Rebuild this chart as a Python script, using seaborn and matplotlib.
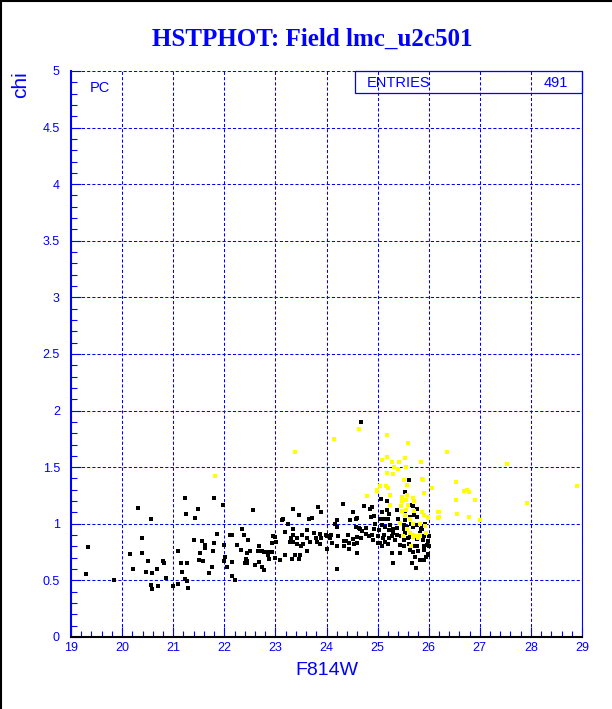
import matplotlib
matplotlib.use("Agg")
import matplotlib.pyplot as plt
import seaborn as sns
import pandas as pd
from matplotlib.lines import Line2D
from matplotlib.patches import Rectangle
from matplotlib.ticker import MultipleLocator, FuncFormatter

# black points (F814W, chi)
black_x = [19.34, 19.29, 19.85, 20.32, 20.56, 20.39, 20.15, 20.38, 20.22, 20.50, 20.47, 20.58, 20.69, 20.80,
           20.82, 20.86, 20.57, 20.59, 20.70, 20.99, 21.09, 21.15, 21.17, 21.27, 21.23, 21.10, 21.28, 21.24,
           21.26, 21.27,
           21.79, 21.48, 21.97, 21.42, 22.57, 21.85, 21.40, 21.56, 21.62, 21.63, 21.79, 21.77, 21.52, 21.50,
           21.58, 21.75, 21.71, 22.00, 22.01, 22.00, 22.05, 22.16, 22.20, 22.11, 22.16, 22.34, 22.38, 22.33,
           22.46, 22.25, 22.44, 22.42, 22.45, 22.44, 22.40, 22.16, 22.51, 22.60, 22.68, 22.66, 22.74, 22.78,
           22.85, 22.68, 22.73, 22.78, 22.85, 22.87, 22.94, 22.93, 22.95, 23.00, 23.01, 23.12, 23.14, 23.19,
           23.25, 23.30, 23.35, 23.35, 23.28, 23.34, 23.42, 23.42, 23.19, 23.38, 23.46, 23.32, 23.35, 23.46,
           23.50, 23.09, 22.99,
           24.68, 24.33, 23.84, 24.51, 24.73, 24.85, 23.89, 23.71, 23.66, 24.20, 24.46, 24.57, 24.59, 24.88,
           24.58, 24.64, 24.66, 24.70, 24.78, 24.17, 23.61, 23.75, 23.87, 23.99, 24.01, 24.08, 24.20, 24.23,
           24.43, 24.60, 23.52, 23.61, 23.80, 23.89, 24.07, 24.10, 24.35, 24.38, 24.51, 24.60, 24.68, 24.77,
           24.83, 23.54, 23.67, 23.82, 23.87, 24.20, 24.45, 24.53, 24.35, 24.44, 23.62, 24.00, 24.60, 24.21,
           23.48, 25.00,
           25.61, 25.54, 25.07, 25.18, 25.63, 25.77, 25.69, 24.90, 25.18, 25.09, 25.22, 25.38, 25.54, 25.64,
           25.77, 25.72, 24.92, 25.04, 25.13, 25.21, 25.39, 25.54, 24.95, 25.08, 25.15, 25.25, 25.38, 25.51,
           25.65, 25.77, 25.87, 25.93, 24.92, 25.02, 25.22, 25.30, 25.31, 25.51, 25.57, 25.70, 25.84, 25.87,
           24.89, 25.00, 25.13, 25.22, 25.28, 25.38, 25.46, 25.53, 25.64, 25.67, 25.74, 25.82, 25.90, 26.00,
           24.91, 25.10, 25.15, 25.35, 25.51, 25.59, 25.77, 25.89, 25.98, 25.08, 25.20, 25.44, 25.61, 25.69,
           25.77, 25.90, 25.97, 26.00, 25.04, 25.29, 25.44, 25.70, 25.51, 25.64, 25.80, 25.91, 25.98, 25.98,
           25.95, 25.31, 25.83, 25.91, 25.74, 25.67, 25.76]
black_y = [0.795, 0.56, 0.50, 1.14, 1.045, 0.877, 0.736, 0.745, 0.60, 0.674, 0.577, 0.563, 0.60, 0.67,
           0.655, 0.524, 0.462, 0.427, 0.45, 0.45, 0.76, 0.657, 0.577, 0.657, 0.512, 0.466, 0.433, 1.225,
           1.087, 0.49,
           1.225, 1.13, 1.166, 1.054, 1.125, 0.913, 0.86, 0.85, 0.81, 0.79, 0.833, 0.762, 0.739, 0.683,
           0.674, 0.62, 0.568, 0.81, 0.71, 0.674, 0.62, 0.539, 0.50, 0.904, 0.904, 0.954, 0.904, 0.77,
           0.857, 0.81, 0.74, 0.69, 0.675, 0.655, 0.65, 0.666, 0.762, 0.636, 0.806, 0.762, 0.76, 0.755,
           0.754, 0.666, 0.62, 0.59, 0.72, 0.69, 0.754, 0.826, 0.89, 0.885, 0.84, 1.036, 1.04, 0.93,
           1.0, 0.87, 0.95, 0.90, 0.84, 0.835, 0.87, 0.82, 0.72, 0.72, 0.69, 0.69, 1.13, 1.08,
           0.80, 0.68, 0.70,
           1.90, 1.175, 1.15, 1.107, 1.157, 1.13, 1.10, 1.05, 1.04, 1.03, 1.03, 1.04, 1.05, 1.057,
           0.97, 0.96, 0.95, 0.94, 0.96, 1.0, 0.945, 0.92, 0.91, 0.90, 0.89, 0.90, 0.975, 0.89,
           0.90, 0.88, 0.90, 0.87, 0.87, 0.875, 0.87, 0.83, 0.85, 0.845, 0.865, 0.83, 0.87, 0.91,
           0.89, 0.82, 0.84, 0.835, 0.82, 0.80, 0.83, 0.82, 0.80, 0.78, 0.76, 0.775, 0.745, 0.60,
           0.72, 0.83,
           1.39, 1.28, 1.22, 1.20, 1.17, 1.13, 1.16, 1.145, 1.125, 1.10, 1.09, 1.12, 1.10, 1.06,
           1.06, 1.08, 1.07, 1.04, 1.04, 1.04, 1.04, 1.03, 0.995, 0.985, 0.975, 0.985, 0.965, 0.985,
           0.995, 0.985, 0.975, 1.0, 0.955, 0.945, 0.945, 0.95, 0.92, 0.955, 0.975, 0.975, 0.95, 0.955,
           0.905, 0.895, 0.905, 0.875, 0.895, 0.905, 0.895, 0.915, 0.905, 0.885, 0.895, 0.915, 0.895, 0.89,
           0.855, 0.875, 0.84, 0.86, 0.855, 0.875, 0.865, 0.86, 0.845, 0.80, 0.825, 0.815, 0.825, 0.80,
           0.80, 0.80, 0.81, 0.80, 0.83, 0.745, 0.745, 0.75, 0.80, 0.77, 0.76, 0.765, 0.72, 0.735,
           0.71, 0.655, 0.68, 0.68, 0.71, 0.655, 0.61]

# yellow points
yellow_x = [21.81, 23.38, 24.14, 24.63, 24.79, 24.98, 25.18, 25.59, 25.09, 25.18, 25.53, 25.29, 25.42,
            25.85, 25.33, 25.40, 25.56, 25.18, 25.30, 25.87, 25.52, 25.57, 25.05, 25.17, 25.21, 24.99,
            25.91, 26.07, 25.57, 25.25, 25.69, 25.47, 25.72, 25.48, 25.56, 25.25, 25.46, 25.60, 25.72,
            25.48, 25.56, 25.53, 25.87, 25.90, 25.98, 26.19, 26.20, 25.63, 25.69, 25.82, 25.44, 25.63,
            25.70, 25.75, 25.80, 25.83, 25.70, 25.66, 25.93, 25.95, 25.49, 25.57, 26.35, 27.54, 25.88,
            26.54, 26.70, 26.74, 26.79, 26.54, 26.91, 28.90, 27.93, 26.20, 26.56, 26.19, 26.79, 27.01,
            25.99]
yellow_y = [1.42, 1.63, 1.75, 1.84, 1.245, 1.29, 1.78, 1.71, 1.56, 1.59, 1.58, 1.545, 1.545,
            1.545, 1.50, 1.48, 1.50, 1.445, 1.44, 1.395, 1.385, 1.34, 1.33, 1.335, 1.32, 1.30,
            1.27, 1.32, 1.25, 1.25, 1.23, 1.24, 1.20, 1.20, 1.21, 1.165, 1.16, 1.165, 1.11,
            1.115, 1.125, 1.08, 1.10, 1.075, 1.05, 1.10, 1.06, 1.04, 0.995, 0.995, 1.01, 0.92,
            0.905, 0.89, 0.87, 0.90, 0.88, 0.80, 0.98, 0.92, 0.89, 0.955, 1.635, 1.53, 1.39,
            1.37, 1.29, 1.30, 1.28, 1.21, 1.21, 1.335, 1.18, 1.105, 1.09, 1.05, 1.06, 1.035,
            1.06]

x_ticks = list(range(19, 30))
n_entries = 491

blue = "#0000ff"
sans = ["Liberation Sans", "DejaVu Sans"]

black_df = pd.DataFrame({"F814W": black_x, "chi": black_y})
yellow_df = pd.DataFrame({"F814W": yellow_x, "chi": yellow_y})

fig = plt.figure(figsize=(6.12, 7.09), dpi=100)
ax = fig.add_axes([0.116, 0.1016, 0.835, 0.7983])

sns.scatterplot(data=black_df, x="F814W", y="chi", color="black", marker="s", s=6,
                linewidth=0, ax=ax, zorder=3)
sns.scatterplot(data=yellow_df, x="F814W", y="chi", color="#ffff00", marker="s", s=6,
                linewidth=0, ax=ax, zorder=4)

ax.set_xlim(19, 29)
ax.set_ylim(0, 5)
ax.set_xticks(x_ticks)
ax.xaxis.set_minor_locator(MultipleLocator(0.2))
ax.yaxis.set_major_locator(MultipleLocator(0.5))
ax.yaxis.set_minor_locator(MultipleLocator(0.1))
ax.yaxis.set_major_formatter(FuncFormatter(lambda v, p: "%g" % v))

ax.grid(True, which="major", color=blue, linestyle=(0, (3, 2)), linewidth=0.75)
ax.set_axisbelow(True)

ax.tick_params(which="both", direction="in", colors=blue, labelcolor=blue, labelsize=9)
ax.tick_params(which="major", length=7, width=0.8)
ax.tick_params(which="minor", length=4, width=0.8)
ax.tick_params(axis="y", pad=8)
for lab in ax.get_xticklabels() + ax.get_yticklabels():
    lab.set_family(sans)

ax.spines["left"].set_color(blue)
ax.spines["left"].set_linewidth(1.5)
ax.spines["bottom"].set_color("black")
ax.spines["bottom"].set_linewidth(1.5)
ax.spines["right"].set_color(blue)
ax.spines["right"].set_linewidth(0.8)
ax.spines["top"].set_visible(False)

ax.set_xlabel("F814W", color=blue, fontsize=14, family=sans, labelpad=6)
ax.set_ylabel("")
fig.text(0.033, 0.899, "chi", rotation=90, color=blue, fontsize=15, family=sans,
         ha="center", va="top")

fig.text(0.51, 0.944, "HSTPHOT: Field lmc_u2c501", color=blue, fontsize=18,
         family=["Liberation Serif", "DejaVu Serif"], fontweight="bold", ha="center", va="center")

# stats box
ax.add_patch(Rectangle((0.556, 0.961), 0.444, 0.039, transform=ax.transAxes, fill=False,
                       edgecolor=blue, linewidth=0.9, clip_on=False, zorder=5))
ax.text(0.579, 0.979, "ENTRIES", transform=ax.transAxes, color=blue, fontsize=10.5,
        family=sans, ha="left", va="center")
ax.text(0.973, 0.979, str(n_entries), transform=ax.transAxes, color=blue, fontsize=10.5,
        family=sans, ha="right", va="center")
ax.text(0.037, 0.970, "PC", transform=ax.transAxes, color=blue, fontsize=10.5,
        family=sans, ha="left", va="center")

# window frame on left and top
fig.add_artist(Line2D([0.002, 0.002], [0, 1], color="black", linewidth=1.5))
fig.add_artist(Line2D([0, 1], [0.998, 0.998], color="black", linewidth=1.5))

fig.savefig("out.png", dpi=100, facecolor="white")
